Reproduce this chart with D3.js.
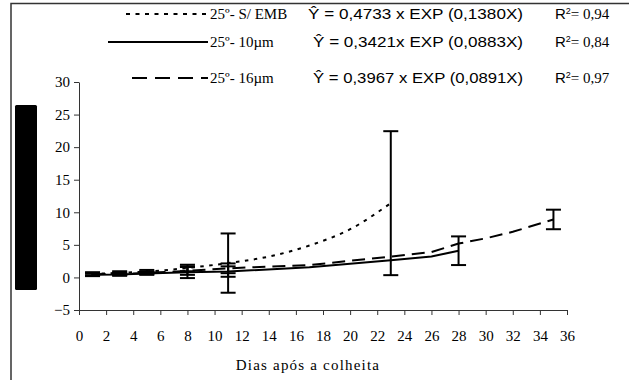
<!DOCTYPE html>
<html>
<head>
<meta charset="utf-8">
<script src="https://cdn.jsdelivr.net/npm/d3@7"></script>
<style>
	body { margin: 0; background: #fff; }
	svg { display: block; }
</style>
</head>
<body>
<svg id="chart" width="629" height="380"></svg>
<script>
// x: dias após a colheita, y: valores
const xTicks = d3.range(0, 37, 2);
const yTicks = [-5, 0, 5, 10, 15, 20, 25, 30];

const sembDays = [1, 3, 5, 8, 11, 14, 17, 20, 23];
const sembVals = [0.55, 0.7, 0.9, 1.45, 2.2, 3.2, 4.9, 7.4, 11.4];
const sembErr = [0.25, 0.25, 0.25, 0.5, 4.55, null, null, null, 11.05];

const um10Days = [1, 3, 5, 8, 11, 17, 23, 26, 28];
const um10Vals = [0.4, 0.45, 0.6, 0.8, 0.9, 1.55, 2.65, 3.2, 4.1];
const um10Err = [0.2, 0.2, 0.2, 0.9, 0.8, null, null, null, 2.2];

const um16Days = [1, 3, 5, 8, 11, 17, 23, 26, 28, 30, 32, 35];
const um16Vals = [0.5, 0.55, 0.7, 1.0, 1.4, 1.9, 3.2, 3.9, 5.2, 6.0, 7.0, 8.9];
const um16Err = [0.2, 0.2, 0.2, 0.6, 0.75, null, null, null, null, null, null, 1.5];

const legendNames = ['25º- S/ EMB', '25º- 10µm', '25º- 16µm'];
const equations = ['Ŷ = 0,4733 x EXP (0,1380X)', 'Ŷ = 0,3421x EXP (0,0883X)', 'Ŷ = 0,3967 x EXP (0,0891X)'];
const r2 = ['0,94', '0,84', '0,97'];

const serif = '"Liberation Serif", "DejaVu Serif", serif';
const sans = '"Liberation Sans", Arial, sans-serif';

const svg = d3.select('#chart');

const x = d3.scaleLinear().domain([0, 36]).range([79, 567]);
const y = d3.scaleLinear().domain([-5, 30]).range([310, 82]);

// moldura
svg.append('path')
	.attr('d', 'M11,380V3.5H629')
	.attr('fill', 'none')
	.attr('stroke', '#333')
	.attr('stroke-width', 1.5);

// barra preta à esquerda
svg.append('rect')
	.attr('x', 15).attr('y', 105)
	.attr('width', 22).attr('height', 185)
	.attr('rx', 1.5)
	.attr('fill', '#000');

svg.append('g')
	.attr('transform', 'translate(79,0)')
	.call(d3.axisLeft(y).tickValues(yTicks).tickSize(5).tickSizeOuter(0).tickPadding(4));

svg.append('g')
	.attr('transform', 'translate(0,310)')
	.call(d3.axisBottom(x).tickValues(xTicks).tickSize(5).tickSizeOuter(0).tickPadding(15));

svg.selectAll('.domain, .tick line').attr('stroke', '#333').attr('stroke-width', 1);
svg.selectAll('.tick text')
	.attr('font-family', serif)
	.attr('font-size', 15)
	.attr('fill', '#000');

svg.append('text')
	.attr('x', 308).attr('y', 370)
	.attr('text-anchor', 'middle')
	.attr('font-family', serif)
	.attr('font-size', 15)
	.attr('letter-spacing', 1.2)
	.text('Dias após a colheita');

const series = [
	{ days: sembDays, vals: sembVals, err: sembErr, dash: '3.5,5.5', curve: d3.curveMonotoneX },
	{ days: um10Days, vals: um10Vals, err: um10Err, dash: null, curve: d3.curveLinear },
	{ days: um16Days, vals: um16Vals, err: um16Err, dash: '13,7', curve: d3.curveLinear }
];

series.forEach(s => {
	const pts = s.days.map((d, i) => ({ d, v: s.vals[i], e: s.err[i] }));

	const line = d3.line().x(p => x(p.d)).y(p => y(p.v)).curve(s.curve);

	svg.append('path')
		.datum(pts)
		.attr('d', line)
		.attr('fill', 'none')
		.attr('stroke', '#000')
		.attr('stroke-width', 2)
		.attr('stroke-dasharray', s.dash);

	const bars = svg.append('g')
		.selectAll('g')
		.data(pts.filter(p => p.e != null))
		.enter()
		.append('g')
		.attr('stroke', '#000')
		.attr('stroke-width', 2);

	bars.append('line')
		.attr('x1', p => x(p.d)).attr('x2', p => x(p.d))
		.attr('y1', p => y(p.v + p.e)).attr('y2', p => y(p.v - p.e));
	bars.append('line')
		.attr('x1', p => x(p.d) - 7.5).attr('x2', p => x(p.d) + 7.5)
		.attr('y1', p => y(p.v + p.e)).attr('y2', p => y(p.v + p.e));
	bars.append('line')
		.attr('x1', p => x(p.d) - 7.5).attr('x2', p => x(p.d) + 7.5)
		.attr('y1', p => y(p.v - p.e)).attr('y2', p => y(p.v - p.e));
});

// legenda
const rowY = [14, 42, 78];
const lineStart = [126, 108, 132];
const legendDash = ['4,5.5', null, '15,8'];
const legend = svg.append('g');

series.forEach((s, i) => {
	legend.append('line')
		.attr('x1', lineStart[i]).attr('x2', 208)
		.attr('y1', rowY[i]).attr('y2', rowY[i])
		.attr('stroke', '#000')
		.attr('stroke-width', 2)
		.attr('stroke-dasharray', legendDash[i]);

	legend.append('text')
		.attr('x', 210).attr('y', rowY[i] + 5)
		.attr('font-family', serif)
		.attr('font-size', 15)
		.text(legendNames[i]);

	legend.append('text')
		.attr('x', i === 0 ? 308 : 313).attr('y', rowY[i] + 5)
		.attr('font-family', sans)
		.attr('font-size', 15)
		.attr('textLength', i === 0 ? 215 : 210)
		.attr('lengthAdjust', 'spacingAndGlyphs')
		.text(equations[i]);

	const r = legend.append('text')
		.attr('x', 555).attr('y', rowY[i] + 5)
		.attr('font-family', sans)
		.attr('font-size', 15);
	r.append('tspan').text('R');
	r.append('tspan').attr('dy', -5).attr('font-size', 9).text('2');
	r.append('tspan').attr('dy', 5).attr('font-family', serif).text('= ' + r2[i]);
});
</script>
</body>
</html>
